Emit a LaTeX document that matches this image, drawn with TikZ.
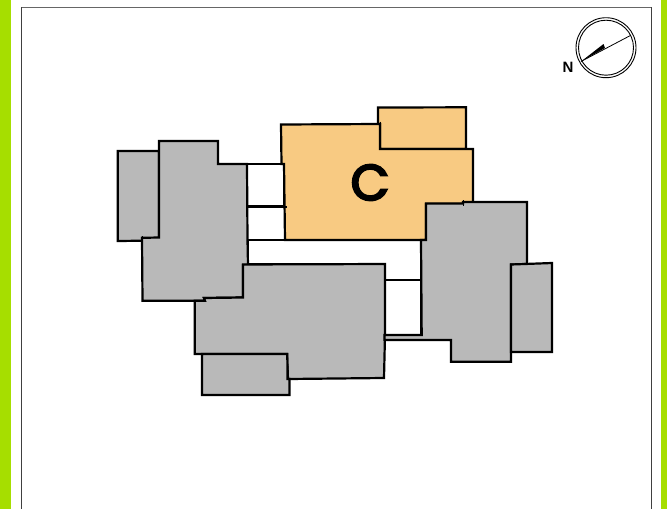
\documentclass[tikz,border=0pt]{standalone}
\usepackage{fontspec}
\newfontfamily\popfont[FakeBold=4.5]{Poppins}
\newfontfamily\arialfont{Liberation Sans}
\definecolor{barGreen}{HTML}{A6DE00}
\definecolor{blockGray}{HTML}{B9B9B9}
\definecolor{blockOrange}{HTML}{F8CA82}
\tikzset{
  bar/.style={fill=barGreen,draw=none},
  wall/.style={line width=2.2pt,draw=black,line join=miter},
  grayblock/.style={wall,fill=blockGray},
  orangeblock/.style={wall,fill=blockOrange},
  whitebox/.style={wall,fill=white},
  frameline/.style={line width=1pt,draw=black!75},
  tick/.style={line width=1pt,draw=black}
}
\begin{document}
\begin{tikzpicture}[x=1pt,y=-1pt]
\useasboundingbox (0,0) rectangle (667,509);
\fill[white] (0,0) rectangle (667,509);
\fill[bar] (0,0) rectangle (11,509);
\fill[bar] (661,0) rectangle (667,509);
% frame
\draw[frameline,draw=black!60] (21,7.5) -- (651,7.5);
\draw[frameline] (21,7) -- (21,509);
\draw[frameline] (651,7) -- (651,509);
% white courtyards
\draw[whitebox] (247,164) rectangle (284,206.5);
\draw[whitebox] (248,240) -- (426,240) -- (421.5,240) -- (421.5,340) -- (384,340) -- (384,264) -- (248,264) -- cycle;
\draw[whitebox] (247,206.5) rectangle (285,240);
\draw[whitebox] (385,280) rectangle (421.5,335);
% orange block
\draw[orangeblock] (378,107.5) -- (466,107.3) -- (466,149) -- (380,149) -- (380,124) -- (378,124) -- cycle;
\draw[orangeblock] (281,124.5) -- (380,124) -- (380,149) -- (466,149) -- (473,149) -- (473,204) -- (426,204) -- (426,240) -- (285,240) -- (284,164) -- (281.5,164) -- cycle;
% left gray
\draw[grayblock] (117.8,151) -- (159,151) -- (159,238) -- (143,240.7) -- (117.8,241) -- cycle;
\draw[grayblock] (159,141) -- (218,141) -- (218,164) -- (247,164) -- (247.5,240) -- (248,265) -- (243,265) -- (243,297.5) -- (204,298) -- (205,300.8) -- (142.5,300.8) -- (142,237.8) -- (159,237.5) -- cycle;
% bottom gray
\draw[grayblock] (243,264.5) -- (385,264) -- (385,335) -- (384,378) -- (288,379) -- (287,354) -- (194.7,354) -- (194.7,300.8) -- (205,300.8) -- (204,298) -- (243,297.5) -- cycle;
\draw[grayblock] (202,354) -- (287.3,354) -- (287.5,379) -- (289.5,379) -- (289.5,395) -- (202,395) -- cycle;
% right gray
\draw[grayblock] (426,203.5) -- (463,203.5) -- (463,202) -- (527,202) -- (527,264) -- (511,264.5) -- (511,361.7) -- (451,361.7) -- (451,340) -- (384.5,340) -- (384.5,335) -- (421.7,335) -- (421,240) -- (426,240) -- cycle;
\draw[grayblock] (511,264.5) -- (552,263) -- (552,352) -- (511,352) -- cycle;
% small sketch ticks
\draw[tick] (380,121.5) -- (380,126);
\draw[wall] (247,206.8) -- (287,206.8);
\draw[tick] (463,200) -- (463,206);
\draw[tick] (142,236) -- (142,241);
% label
\node[font=\popfont\fontsize{50}{50}\selectfont,inner sep=0pt,anchor=center] (blockC) at (370,182.5) {C};
% compass
\coordinate (compassC) at (606,47.7);
\draw[line width=0.9pt] (compassC) circle (30);
\draw[line width=0.9pt] (compassC) circle (27.5);
\coordinate (tipN) at (581,61.5);
\coordinate (tailN) at (630,35.7);
\draw[line width=0.8pt] (tipN) -- (tailN);
\fill (tipN) -- (603.5,44) -- (605,48) -- cycle;
\node[font=\arialfont\bfseries\fontsize{15}{15}\selectfont,inner sep=0pt] (northLabel) at (568,67.5) {N};
\end{tikzpicture}
\end{document}
